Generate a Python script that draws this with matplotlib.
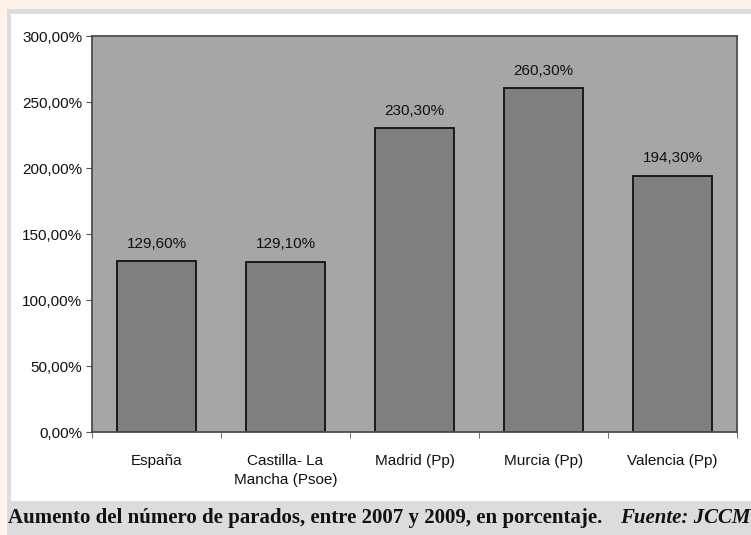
import matplotlib
matplotlib.use("Agg")
import matplotlib.pyplot as plt
from matplotlib.patches import Rectangle
from matplotlib.ticker import FuncFormatter, FixedLocator

categories = ["España", "Castilla- La\nMancha (Psoe)", "Madrid (Pp)", "Murcia (Pp)", "Valencia (Pp)"]
values = [129.6, 129.1, 230.3, 260.3, 194.3]
labels = ["129,60%", "129,10%", "230,30%", "260,30%", "194,30%"]
yticks = [0, 50, 100, 150, 200, 250, 300]

W, H = 751, 535
fig = plt.figure(figsize=(W/100, H/100), dpi=100)
fig.patch.set_facecolor("#fdf3ea")

# frame backgrounds
fig.patches.append(Rectangle((7/W, 0), 1-7/W, 1-9/H, transform=fig.transFigure,
                             facecolor="#dcdcdc", edgecolor="none", zorder=-10))
fig.patches.append(Rectangle((11/W, 1-501/H), 1-11/W, (501-14)/H, transform=fig.transFigure,
                             facecolor="white", edgecolor="none", zorder=-9))

ax = fig.add_axes([92/W, 1-432/H, (737-92)/W, (432-36)/H])
ax.set_zorder(5)
ax.set_facecolor("#a6a6a6")
x = list(range(len(categories)))
ax.bar(x, values, width=0.62, color="#808080", edgecolor="#111111", linewidth=1.3, zorder=2)
for xi, v, lab in zip(x, values, labels):
    ax.text(xi, v + 13, lab, ha="center", va="center", fontsize=11,
            family="Liberation Sans", color="#111111")
ax.set_xlim(-0.5, len(categories) - 0.5)
ax.set_ylim(0, 300)
ax.set_yticks(yticks)
ax.yaxis.set_major_formatter(FuncFormatter(lambda v, p: f"{v:.2f}".replace(".", ",") + "%"))
ax.set_xticks(x)
ax.set_xticklabels(categories, fontsize=11, family="Liberation Sans", color="#111111",
                   linespacing=1.4)
ax.xaxis.set_minor_locator(FixedLocator([i - 0.5 for i in range(len(categories) + 1)]))
for t in ax.get_yticklabels():
    t.set_fontsize(11); t.set_family("Liberation Sans"); t.set_color("#111111")
ax.tick_params(axis="x", which="major", length=0, pad=16)
ax.tick_params(axis="x", which="minor", length=4, direction="out", color="#555555")
ax.tick_params(axis="y", length=4, direction="out", color="#555555", pad=3)
for s in ax.spines.values():
    s.set_color("#4d4d4d"); s.set_linewidth(1.3)

fig.text(8/W, 1-518/H, "Aumento del número de parados, entre 2007 y 2009, en porcentaje.",
         family="Liberation Serif", fontweight="bold", fontsize=15, va="center", ha="left", color="#111111")
fig.text(750/W, 1-518/H, "Fuente: JCCM", family="Liberation Serif", fontweight="bold",
         style="italic", fontsize=15, va="center", ha="right", color="#111111")

fig.savefig("out.png", dpi=100, facecolor=fig.get_facecolor())
